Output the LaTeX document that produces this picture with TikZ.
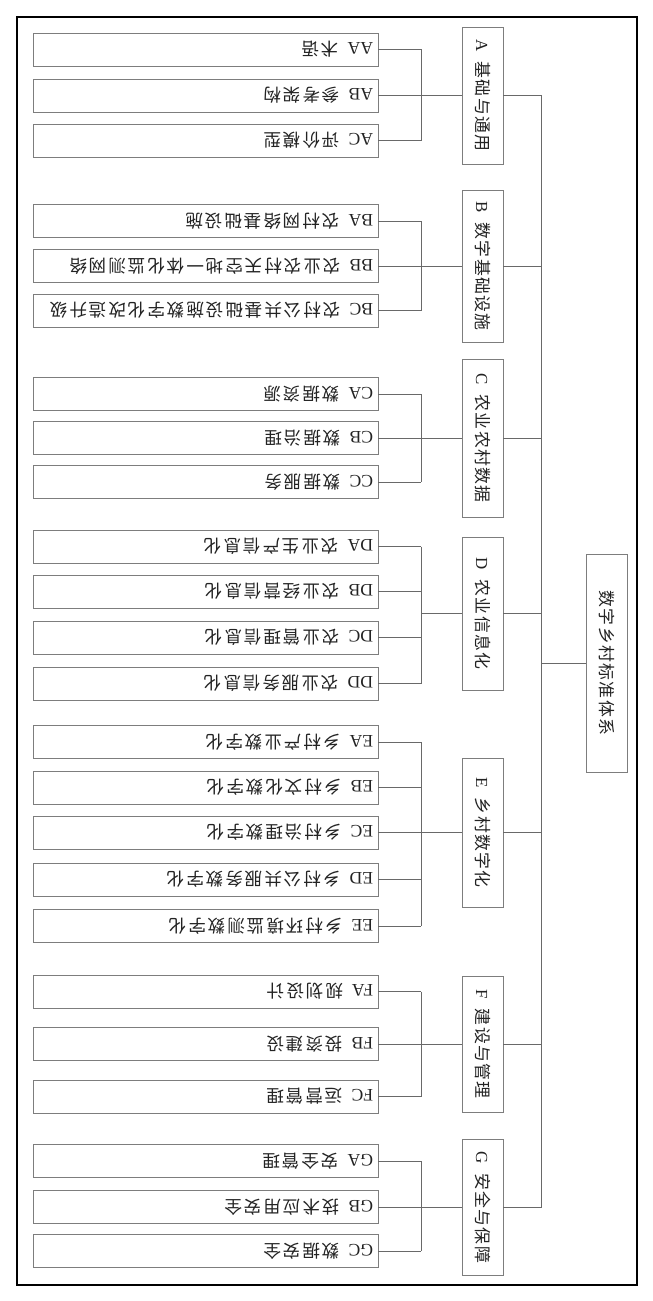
\documentclass[tikz,border=0pt]{standalone}
\usepackage{fontspec}
\setmainfont{Liberation Serif}
\newfontfamily\cjkleaf{Noto Sans CJK SC}[LetterSpace=11]
\newfontfamily\cjkmid{Noto Sans CJK SC}[LetterSpace=8]
\usetikzlibrary{positioning,calc}
\definecolor{BoxGray}{RGB}{125,125,125}
\definecolor{LineGray}{RGB}{105,105,105}
\definecolor{InkGray}{RGB}{35,35,35}
\tikzset{
  leaf/.style={draw=BoxGray,line width=0.6pt,rotate=180,minimum height=0.825cm,
    text width=8.375cm,inner xsep=0.125cm,inner ysep=0pt,align=left,
    font=\fontsize{12.5}{14}\selectfont,text=InkGray},
  mid/.style={draw=BoxGray,line width=0.6pt,rotate=-90,minimum width=#1,
    minimum height=1.025cm,inner sep=0pt,font=\fontsize{12}{14}\selectfont,text=InkGray},
  link/.style={draw=LineGray,line width=0.5pt},
}
\newcommand{\leaftext}[2]{#1\hspace{0.22cm}{\cjkleaf #2}}
\newcommand{\midtext}[2]{#1\hspace{0.25cm}{\cjkmid #2}}

\begin{document}
\begin{tikzpicture}[x=0.025cm,y=-0.025cm]
\useasboundingbox (0,0) rectangle (652,1301);
\draw[line width=0.9pt] (17,17) rectangle (637,1285);
\coordinate (trunk) at (541.5,0);
\coordinate (brk) at (421,0);
% root
\node[mid=5.45cm] (root) at (606.5,663) {{\cjkmid 数字乡村标准体系}};
% second level
\node[mid=3.425cm] (A) at (482.5,95.5) {\midtext{A}{基础与通用}};
\node[mid=3.8cm] (B) at (482.5,266) {\midtext{B}{数字基础设施}};
\node[mid=3.95cm] (C) at (482.5,438) {\midtext{C}{农业农村数据}};
\node[mid=3.825cm] (D) at (482.5,613.5) {\midtext{D}{农业信息化}};
\node[mid=3.725cm] (E) at (482.5,832.5) {\midtext{E}{乡村数字化}};
\node[mid=3.4cm] (F) at (482.5,1044) {\midtext{F}{建设与管理}};
\node[mid=3.4cm] (G) at (482.5,1207) {\midtext{G}{安全与保障}};
% leaves
\node[leaf] (AA) at (205.5,49.5) {\leaftext{AA}{术语}};
\node[leaf] (AB) at (205.5,95.5) {\leaftext{AB}{参考架构}};
\node[leaf] (AC) at (205.5,140.5) {\leaftext{AC}{评价模型}};
\node[leaf] (BA) at (205.5,221) {\leaftext{BA}{农村网络基础设施}};
\node[leaf] (BB) at (205.5,266) {\leaftext{BB}{农业农村天空地一体化监测网络}};
\node[leaf] (BC) at (205.5,310.5) {\leaftext{BC}{农村公共基础设施数字化改造升级}};
\node[leaf] (CA) at (205.5,394) {\leaftext{CA}{数据资源}};
\node[leaf] (CB) at (205.5,438) {\leaftext{CB}{数据治理}};
\node[leaf] (CC) at (205.5,482) {\leaftext{CC}{数据服务}};
\node[leaf] (DA) at (205.5,546.5) {\leaftext{DA}{农业生产信息化}};
\node[leaf] (DB) at (205.5,591.5) {\leaftext{DB}{农业经营信息化}};
\node[leaf] (DC) at (205.5,637.5) {\leaftext{DC}{农业管理信息化}};
\node[leaf] (DD) at (205.5,683.5) {\leaftext{DD}{农业服务信息化}};
\node[leaf] (EA) at (205.5,742) {\leaftext{EA}{乡村产业数字化}};
\node[leaf] (EB) at (205.5,787.5) {\leaftext{EB}{乡村文化数字化}};
\node[leaf] (EC) at (205.5,832.5) {\leaftext{EC}{乡村治理数字化}};
\node[leaf] (ED) at (205.5,879.5) {\leaftext{ED}{乡村公共服务数字化}};
\node[leaf] (EE) at (205.5,926) {\leaftext{EE}{乡村环境监测数字化}};
\node[leaf] (FA) at (205.5,991.5) {\leaftext{FA}{规划设计}};
\node[leaf] (FB) at (205.5,1044) {\leaftext{FB}{投资建设}};
\node[leaf] (FC) at (205.5,1096.5) {\leaftext{FC}{运营管理}};
\node[leaf] (GA) at (205.5,1161) {\leaftext{GA}{安全管理}};
\node[leaf] (GB) at (205.5,1207) {\leaftext{GB}{技术应用安全}};
\node[leaf] (GC) at (205.5,1251) {\leaftext{GC}{数据安全}};
% connectors
\draw[link] (root.south) -- (root.south -| trunk);
\draw[link] (A.north -| trunk) -- (G.north -| trunk);
\foreach \g/\last/\ks in {A/C/{A,B,C},B/C/{A,B,C},C/C/{A,B,C},D/D/{A,B,C,D},
    E/E/{A,B,C,D,E},F/C/{A,B,C},G/C/{A,B,C}}{
  \draw[link] (\g.north) -- (\g.north -| trunk);
  \draw[link] (\g.south) -- (\g.south -| brk);
  \draw[link] (\g A.west -| brk) -- (\g\last.west -| brk);
  \foreach \k in \ks
    \draw[link] (\g\k.west) -- (\g\k.west -| brk);
}
\end{tikzpicture}
\end{document}
